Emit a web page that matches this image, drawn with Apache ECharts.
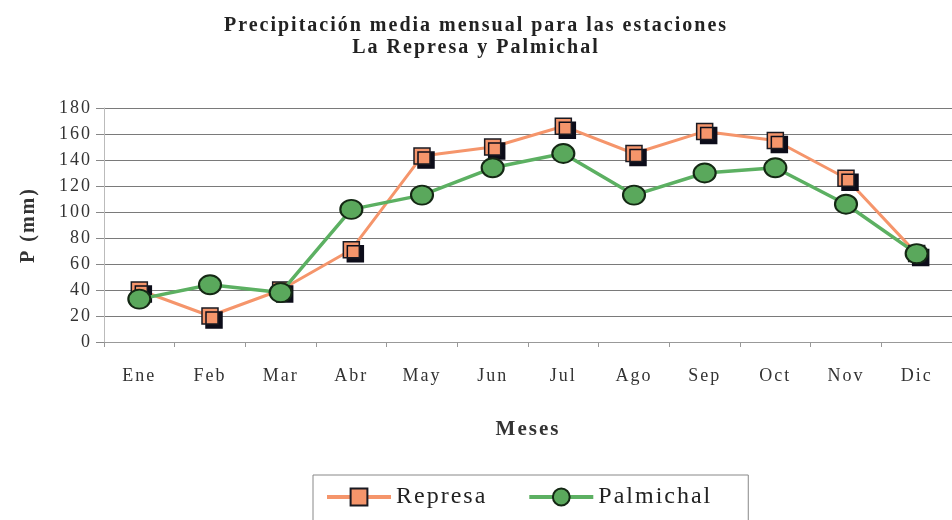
<!DOCTYPE html>
<html><head><meta charset="utf-8">
<script src="https://cdn.jsdelivr.net/npm/echarts@6/dist/echarts.min.js"></script>
<style>html,body{margin:0;padding:0;background:#fff}#c{width:952px;height:520px}</style>
</head><body><div id="c"></div>
<script>
var months = ['Ene','Feb','Mar','Abr','May','Jun','Jul','Ago','Sep','Oct','Nov','Dic'];
var represa = [40, 20, 40, 71, 143, 150, 166, 145, 162, 155, 126, 68];
var palmichal = [33, 44, 38, 102, 113, 134, 145, 113, 130, 134, 106, 68];
var yTicks = [0, 20, 40, 60, 80, 100, 120, 140, 160, 180];

var SPACING = '2px';
// letter-spaced text, both when measured and when drawn
var CP = CanvasRenderingContext2D.prototype;
var origFill = CP.fillText, origStroke = CP.strokeText, origMeasure = CP.measureText;
CP.fillText = function () { try { this.letterSpacing = SPACING; } catch (e) {} return origFill.apply(this, arguments); };
CP.strokeText = function () { try { this.letterSpacing = SPACING; } catch (e) {} return origStroke.apply(this, arguments); };
CP.measureText = function () { try { this.letterSpacing = SPACING; } catch (e) {} return origMeasure.apply(this, arguments); };

var serif = '"Liberation Serif", "DejaVu Serif", serif';
var chart = echarts.init(document.getElementById('c'), null, { renderer: 'canvas' });
chart.setOption({
  animation: false,
  backgroundColor: '#fff',
  title: {
    text: 'Precipitación media mensual para las estaciones\nLa Represa y Palmichal',
    left: 'center', top: 10,
    textStyle: { fontFamily: serif, fontWeight: 'bold', fontSize: 20, color: '#222', lineHeight: 22 }
  },
  grid: { left: 104, width: 856, top: 108, height: 234, containLabel: false },
  legend: {
    data: ['Represa', 'Palmichal'],
    left: 313, top: 475,
    padding: [9, 36, 30, 12],
    itemGap: 40,
    itemWidth: 64, itemHeight: 21,
    lineStyle: { width: 4 },
    borderColor: '#888', borderWidth: 1,
    textStyle: { fontFamily: serif, fontSize: 24, color: '#222' }
  },
  xAxis: {
    type: 'category', data: months, boundaryGap: true,
    name: 'Meses', nameLocation: 'middle', nameGap: 76,
    nameTextStyle: { fontFamily: serif, fontWeight: 'bold', fontSize: 21, color: '#333' },
    axisLine: { lineStyle: { color: '#999' } },
    axisTick: { show: true, length: 5, lineStyle: { color: '#999' } },
    axisLabel: { fontFamily: serif, fontSize: 18, color: '#333', margin: 24 }
  },
  yAxis: {
    type: 'value', min: 0, max: 180, interval: 20,
    name: 'P (mm)', nameLocation: 'middle', nameGap: 64, nameRotate: 90,
    nameTextStyle: { fontFamily: serif, fontWeight: 'bold', fontSize: 20, color: '#333' },
    axisLine: { show: true, lineStyle: { color: '#bbb' } },
    axisTick: { show: true, length: 8, lineStyle: { color: '#888' } },
    axisLabel: { fontFamily: serif, fontSize: 18, color: '#333', margin: 12,
      formatter: function (v) { return yTicks.indexOf(v) >= 0 ? String(v) : ''; } },
    splitLine: { lineStyle: { color: '#7a7a7a', width: 1 } }
  },
  series: [
    {
      name: 'Represa', type: 'line', data: represa,
      symbol: 'rect', symbolSize: 16,
      lineStyle: { color: '#f5956b', width: 3 },
      itemStyle: { color: '#f5956b', borderColor: '#1a1a22', borderWidth: 1.5,
        shadowColor: '#0d0d1a', shadowOffsetX: 4, shadowOffsetY: 4, shadowBlur: 0 },
      z: 3
    },
    {
      name: 'Palmichal', type: 'line', data: palmichal,
      symbol: 'circle', symbolSize: [22, 19],
      lineStyle: { color: '#5cb062', width: 3.5 },
      itemStyle: { color: '#5aa85c', borderColor: '#142814', borderWidth: 2 },
      z: 4
    }
  ]
});
</script></body></html>
